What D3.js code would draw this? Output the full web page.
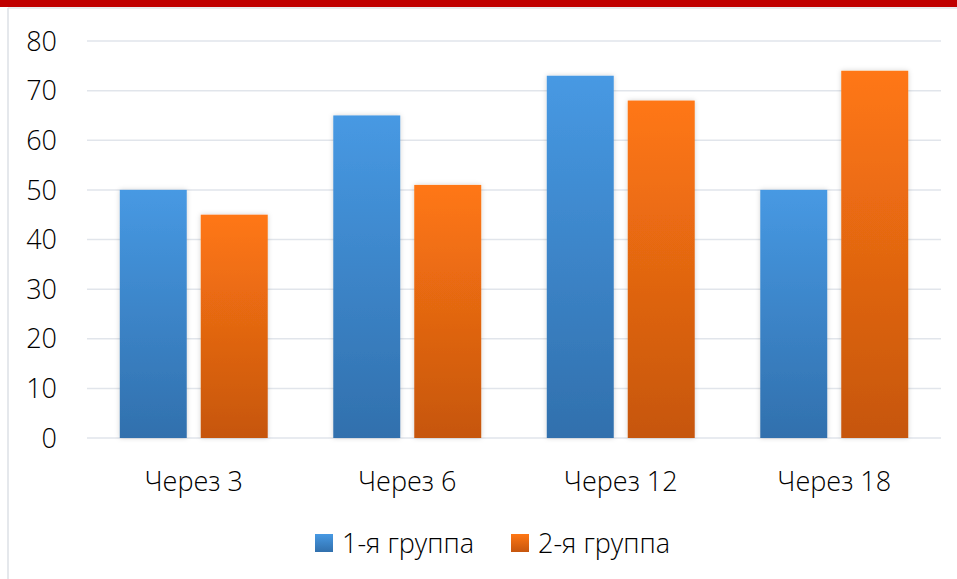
<!DOCTYPE html>
<html>
<head>
<meta charset="utf-8">
<script src="https://cdn.jsdelivr.net/npm/d3@7"></script>
<style>
  body { margin: 0; background: #fff; }
  svg { display: block; font-family: "Open Sans", "Noto Sans", sans-serif; font-weight: 300; }
</style>
</head>
<body>
<svg id="chart"></svg>
<script>
const categories = ["Через 3", "Через 6", "Через 12", "Через 18"];
const seriesNames = ["1-я группа", "2-я группа"];
const group1 = [50, 65, 73, 50];
const group2 = [45, 51, 68, 74];
const yTicks = [0, 10, 20, 30, 40, 50, 60, 70, 80];

const width = 957, height = 579;
const margin = { top: 41, right: 16, bottom: 141, left: 87 };

const svg = d3.select("#chart")
    .attr("width", width)
    .attr("height", height);

const defs = svg.append("defs");
const gradColors = [
    ["#4799e3", "#3170ad"],
    ["#ff7714", "#c6560e"],
];
gradColors.forEach((c, i) => {
    const g = defs.append("linearGradient")
        .attr("id", "grad" + i)
        .attr("x1", 0).attr("y1", 0).attr("x2", 0).attr("y2", 1);
    g.append("stop").attr("offset", "0%").attr("stop-color", c[0]);
    g.append("stop").attr("offset", "100%").attr("stop-color", c[1]);
});
const shadow = defs.append("filter").attr("id", "shadow")
    .attr("x", "-20%").attr("y", "-10%").attr("width", "140%").attr("height", "120%");
shadow.append("feDropShadow")
    .attr("dx", 0).attr("dy", 0).attr("stdDeviation", 2.5)
    .attr("flood-color", "#000").attr("flood-opacity", 0.18);

// frame: red top bar, thin grey border
svg.append("rect")
    .attr("x", 0).attr("y", 0).attr("width", width).attr("height", 7)
    .attr("fill", "#c00000");
svg.append("line")
    .attr("x1", 8).attr("x2", width).attr("y1", 8).attr("y2", 8)
    .attr("stroke", "#e3e6ea").attr("stroke-width", 1.5);
svg.append("line")
    .attr("x1", 8).attr("x2", 8).attr("y1", 8).attr("y2", height)
    .attr("stroke", "#dde1e6").attr("stroke-width", 1.5);

const x0 = d3.scaleBand()
    .domain(categories)
    .range([margin.left, width - margin.right])
    .paddingInner(0.307)
    .paddingOuter(0.1535);

const x1 = d3.scaleBand()
    .domain(seriesNames)
    .range([0, x0.bandwidth()])
    .paddingInner(0.173);

const y = d3.scaleLinear()
    .domain([0, 80])
    .range([height - margin.bottom, margin.top]);

// gridlines
svg.append("g")
    .selectAll("line")
    .data(yTicks)
    .join("line")
    .attr("x1", margin.left)
    .attr("x2", width - margin.right)
    .attr("y1", d => y(d))
    .attr("y2", d => y(d))
    .attr("stroke", "#e1e5eb")
    .attr("stroke-width", 1.5);

// y labels
svg.append("g")
    .selectAll("text")
    .data(yTicks)
    .join("text")
    .attr("x", 57)
    .attr("y", d => y(d))
    .attr("dy", "0.36em")
    .attr("text-anchor", "end")
    .attr("font-size", 27)
    .attr("fill", "#000")
    .text(d => d);

// bars
const data = categories.map((c, i) => ({ cat: c, values: [group1[i], group2[i]] }));
svg.append("g")
    .selectAll("g")
    .data(data)
    .join("g")
    .attr("transform", d => `translate(${x0(d.cat)},0)`)
    .selectAll("rect")
    .data(d => d.values.map((v, j) => ({ key: seriesNames[j], j: j, v: v })))
    .join("rect")
    .attr("x", d => x1(d.key))
    .attr("y", d => y(d.v))
    .attr("width", x1.bandwidth())
    .attr("height", d => y(0) - y(d.v))
    .attr("fill", d => `url(#grad${d.j})`)
    .attr("filter", "url(#shadow)");

// category labels
svg.append("g")
    .selectAll("text")
    .data(categories)
    .join("text")
    .attr("x", d => x0(d) + x0.bandwidth() / 2)
    .attr("y", 481)
    .attr("dy", "0.36em")
    .attr("text-anchor", "middle")
    .attr("font-size", 27)
    .attr("fill", "#000")
    .text(d => d);

// legend
const legendX = [315, 511];
const leg = svg.append("g")
    .selectAll("g")
    .data(seriesNames)
    .join("g")
    .attr("transform", (d, i) => `translate(${legendX[i]},534)`);
leg.append("rect")
    .attr("width", 18)
    .attr("height", 18)
    .attr("fill", (d, i) => `url(#grad${i})`);
leg.append("text")
    .attr("x", 27)
    .attr("y", 9)
    .attr("dy", "0.36em")
    .attr("font-size", 27)
    .attr("fill", "#000")
    .text(d => d);
</script>
</body>
</html>
